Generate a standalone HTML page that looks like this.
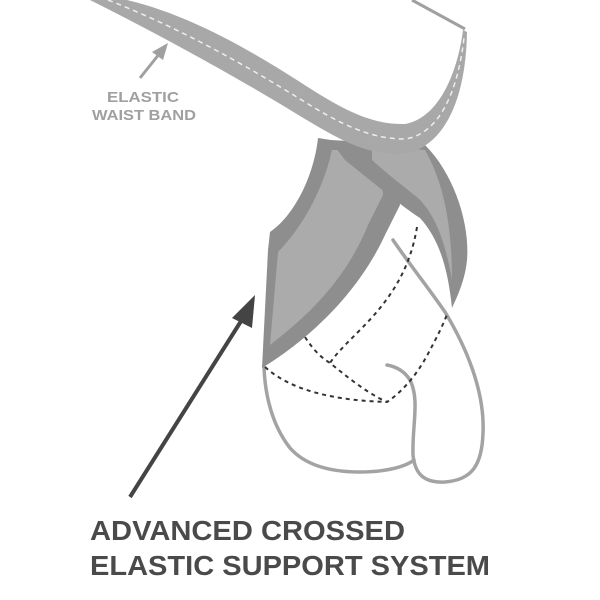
<!DOCTYPE html>
<html><head><meta charset="utf-8"><style>html,body{margin:0;padding:0;background:#fff}svg{display:block}</style></head>
<body>
<svg width="600" height="600" viewBox="0 0 600 600" xmlns="http://www.w3.org/2000/svg">
<rect width="600" height="600" fill="#fff"/>
<path d="M412,0 L465,29" stroke="#a0a0a0" stroke-width="3" fill="none"/>
<g fill="none" stroke="#a3a3a3" stroke-width="3.5" stroke-linecap="round">
<path d="M393,240 C410,265 430,290 445,312 C465,345 485,390 483,433 C482,465 472,480 445,482 C425,483 415,475 413,455 C412,425 420,400 410,380 C405,372 398,367 387,365"/>
<path d="M264,367 C265,395 272,425 290,448 C305,465 330,472 360,472 C385,472 405,467 414,460"/>
</g>
<g fill="none" stroke="#333" stroke-width="2" stroke-dasharray="4 4">
<path d="M417,227 C410,270 390,300 360,330 C345,345 335,355 330,363"/>
<path d="M305,337 C312,348 320,357 330,363 C345,375 365,392 387,402 C405,390 420,370 430,350 C438,335 443,325 448,312"/>
<path d="M265,367 C285,385 320,400 387,402"/>
</g>
<path d="M318,138 C314,175 295,215 270,232 L268,250 L262,368 C300,345 355,300 385,235 L400,205 L395,150 Z" fill="#8e8e8e"/>
<path d="M332,150 C322,195 298,232 278,252 L270,345 C305,318 345,282 368,225 L383,195 L380,150 Z" fill="#ababab"/>
<path d="M330,140 L425,145 C455,175 470,225 467,260 C465,280 458,295 452,308 C448,270 440,240 420,218 C400,205 370,180 345,160 Z" fill="#8e8e8e"/>
<path d="M372,146 L425,150 C442,180 452,220 452,280 C446,245 436,215 418,198 C402,185 385,172 372,160 Z" fill="#ababab"/>
<path d="M127,0 C190,15 250,50 300,82 C340,108 370,125 405,124 C440,118 458,70 463,30 L467,32 C466,90 450,140 410,153 C370,158 340,140 300,116 C250,85 170,40 90,0 Z" fill="#a8a8a8"/>
<path d="M108,0 C180,28 245,65 300,99 C340,124 370,139 405,139 C440,134 458,90 464,38" fill="none" stroke="#eee" stroke-width="1.5" stroke-dasharray="5 4"/>
<line x1="140" y1="78" x2="160" y2="53" stroke="#a0a0a0" stroke-width="3"/>
<polygon points="168,43 152,52 163,60" fill="#a0a0a0"/>
<text x="143" y="102" font-family="Liberation Sans, sans-serif" font-weight="bold" font-size="15" fill="#a0a0a0" text-anchor="middle" textLength="72" lengthAdjust="spacingAndGlyphs">ELASTIC</text>
<text x="144" y="120" font-family="Liberation Sans, sans-serif" font-weight="bold" font-size="15" fill="#a0a0a0" text-anchor="middle" textLength="104" lengthAdjust="spacingAndGlyphs">WAIST BAND</text>
<line x1="130" y1="497" x2="243" y2="318" stroke="#444" stroke-width="4"/>
<polygon points="255,295 232,318 252,328" fill="#444"/>
<text x="90" y="540" font-family="Liberation Sans, sans-serif" font-weight="bold" font-size="28" fill="#4a4a4a" textLength="315" lengthAdjust="spacingAndGlyphs">ADVANCED CROSSED</text>
<text x="90" y="575" font-family="Liberation Sans, sans-serif" font-weight="bold" font-size="28" fill="#4a4a4a" textLength="400" lengthAdjust="spacingAndGlyphs">ELASTIC SUPPORT SYSTEM</text>
</svg>
</body></html>
